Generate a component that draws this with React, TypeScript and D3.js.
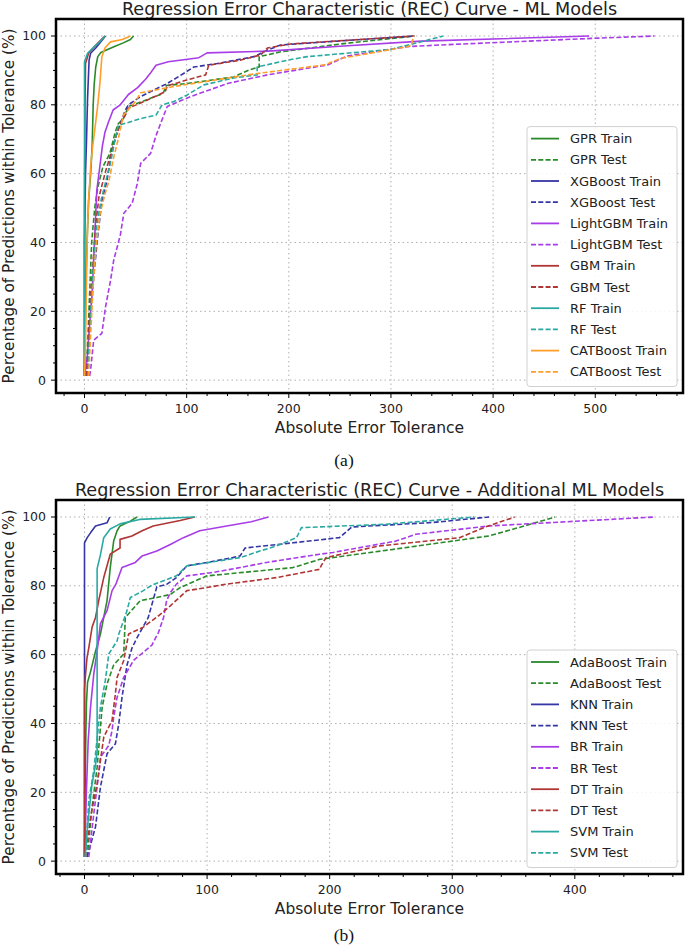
import * as d3 from "d3";

type Pt = [number, number];

// ---- (a) ML models: [absolute error, % of predictions within tolerance]
const gprTrain: Pt[] = [[0,1.2],[0.5,12],[1.5,30],[2.6,41],[4,52],[6,60],[7.5,68],[8.5,80],[9.5,86],[11,91],[13,94],[16,95.2],[22,96],[30,97],[38,98],[45,99],[48,100]];
const gprTest: Pt[] = [[1.5,1.2],[3,10],[5,25],[7,40],[10,50],[13,56],[18,62],[25,66],[30,72],[33,74.5],[38,76],[43,79.5],[55,80.8],[77,83.3],[80,85.6],[100,86.2],[146,88.1],[160,90],[171,91],[171,94],[192,95.4],[251,97.7],[323,100]];
const xgbTrain: Pt[] = [[0,1.2],[0,40],[1,60],[2,70],[3,82],[4.5,93],[6,95],[11,96.5],[15,98],[20.5,100]];
const xgbTest: Pt[] = [[2.5,1.2],[4,10],[7,22],[9,30],[13,42],[17,52],[22,58],[27,67],[32,72],[40,78.5],[43,80],[55,82.4],[81,86.2],[97,89.1],[107,91],[130,92],[166,94],[179,95.9],[192,97.4],[251,98.6],[323,100]];
const lgbmTrain: Pt[] = [[0,1.2],[1,3],[2.5,6],[4,12],[6,20],[7.5,25],[9,35],[10.5,45],[12,55],[15,62],[17.5,68],[20,72],[23.5,75],[28,78.5],[35,80],[43,83],[52,85],[60,87.5],[64,89],[70,91.5],[82,92.5],[112,93.7],[120,95.1],[180,95.6],[250,97],[330,98.5],[494,100]];
const lgbmTest: Pt[] = [[5,1.2],[6,3],[9,11.6],[17,13.6],[20.6,21.3],[25.5,29],[28.7,35],[35,42],[38.5,48.5],[46.7,51.4],[51.6,57],[55,63],[64.7,65.9],[69.6,70.7],[74.5,74.6],[81,79.5],[88,80.4],[104,82.4],[140,86.2],[179,88.7],[238,91.6],[257,94.2],[316,96.9],[349,97.4],[496,99.3],[558,100]];
const gbmTrain: Pt[] = [[0,1.2],[0,50],[0.5,80],[1,92],[4,95],[10,97],[15,98.5],[20,100]];
const gbmTest: Pt[] = [[2,1.2],[3.5,8],[5,20],[8,33],[11,45],[14,53],[20,60],[26,66],[32,72],[36,75],[40,77],[43,79],[61.5,81.4],[79,83.8],[81,85.5],[100,87.2],[118.6,88.7],[121.6,91.5],[153,93],[172.5,94.5],[179,96.5],[202,97.7],[323,100]];
const rfTrain: Pt[] = [[0,1.2],[0,92.5],[3,95],[10,97],[14,98],[20,100]];
const rfTest: Pt[] = [[3,1.2],[4.5,10],[7,25],[9,35],[12,45],[16,52],[21,58],[26,64],[30,70],[33,74],[55,76],[70,77],[76,80],[88,81],[100,82.8],[117,85.8],[146,87.8],[169,88.7],[169,91],[199,93],[218,94],[300,96.1],[336,98.8],[351,100]];
const catTrain: Pt[] = [[0,1.2],[1,10],[2,30],[3,45],[4,52],[6,62],[8,68],[10.4,73.6],[13,80],[15,86],[16,90],[17,94],[20,96.5],[25.5,98.3],[37,99],[45,100]];
const catTest: Pt[] = [[4,1.2],[5.5,10],[8,25],[11,38],[15,48],[20,54],[24,58],[28,64],[33,70],[38,77],[50,81],[55,83.5],[87,85.3],[169,89.1],[235,91.6],[251,93.5],[316,96.9],[320,97.3],[322,100]];

// ---- (b) additional ML models
const adaTrain: Pt[] = [[0,1.2],[0.5,20],[1,35],[1.6,46],[2.5,52],[4.9,55],[9,61],[13,66],[18.4,75.7],[21,85.3],[23.8,93],[26.6,96],[29,97.4],[37.4,98.8],[42.8,100]];
const adaTest: Pt[] = [[2.2,1.2],[6.2,15.7],[10.3,27.3],[14.4,44.7],[18.4,51.5],[23.8,57],[32,60.2],[33.3,70.8],[45.5,75.7],[59,76.6],[70,77.5],[78,79.5],[100,82.9],[129.5,83.9],[170,85.3],[192,87.7],[250,90.5],[300,93],[330,94.5],[350,96.5],[384,100]];
const knnTrain: Pt[] = [[0,1.2],[0,92.5],[2.2,94],[4.9,95.4],[9,97.4],[18.4,98.3],[20.6,100]];
const knnTest: Pt[] = [[2.2,1.2],[9,10],[13,21.5],[18.4,31.2],[25.2,34.1],[28,40],[30.6,47.6],[34.7,57],[38.8,62],[43,65],[52,70.8],[59,79.7],[67,80.4],[75,82.4],[83.5,85.8],[100,86.8],[121,88.2],[127,88.7],[131,91],[170,92.5],[208,94],[218,97.1],[284,98.4],[330,100]];
const brTrain: Pt[] = [[0,1.2],[0.8,10],[1.6,20.6],[3,35],[4.9,44.7],[7.6,54.5],[10.3,61],[13,69],[18.4,72.8],[22.5,78.6],[25.5,80.4],[30.6,85.3],[41.5,86.8],[47,88.7],[59,90.1],[70,92],[80.7,94],[94,96],[116,97.4],[136,98.6],[150,100]];
const brTest: Pt[] = [[3.5,1.2],[7.6,13.8],[11.6,25.4],[13,30.2],[19.8,33.6],[22.5,38],[23.8,41.8],[26.6,47.6],[32,53.4],[40,58.3],[55,62.8],[60.4,66.5],[64.5,70.8],[67,75.7],[70,78],[75,80.5],[83.5,82.9],[105,83.9],[127,85.3],[148.5,86.8],[192,89.2],[202.7,89.7],[254,93],[270.5,95],[330,97.4],[387,98.5],[465,100]];
const dtTrain: Pt[] = [[0,1.2],[0,50],[0.8,54],[2,59],[3.5,62],[6.2,68],[9,70.8],[11.6,75.7],[15.7,82.4],[21,89.2],[29,91],[29,93.5],[38.7,94.5],[47,96],[56,97.4],[78,99],[90,100]];
const dtTest: Pt[] = [[0.8,1.2],[4.9,12.8],[10.3,22.5],[15.7,36],[18.4,38],[22.5,40.9],[25.2,48.6],[26.6,53.4],[32,58.3],[36,66],[48,68],[60.4,71.3],[70,74.2],[78,76.8],[83.5,78.6],[100,79.5],[116,80.5],[156.7,82.4],[192,84.8],[193,85.8],[197,88.2],[240.7,91.6],[306,94],[327,97.1],[351,100]];
const svmTrain: Pt[] = [[0.5,1.2],[3,12],[6,22],[9,28],[10.3,32],[10.3,85],[13,89],[15.7,94],[21,96.5],[29,98],[45,99.3],[90,100]];
const svmTest: Pt[] = [[0.8,1.2],[3.5,17.7],[7.6,26.4],[13,44.7],[17,52.5],[19.8,60.2],[26.6,64],[28,66],[34.7,72.8],[37.4,76.6],[48,78.6],[55,80.2],[75,82.9],[83.5,85.8],[127,88.2],[143,90.1],[156.7,91.6],[173,94],[177,96.9],[246,97.9],[311,99.8],[318,100]];

const GREEN = "#2a8a2a";
const BLUE = "#3535a5";
const PURPLE = "#a83ce6";
const RED = "#b03535";
const TEAL = "#2aa9a3";
const ORANGE = "#ff9f2a";

interface Series { label: string; color: string; dashed: boolean; data: Pt[] }

const mlSeries: Series[] = [
  { label: "GPR Train", color: GREEN, dashed: false, data: gprTrain },
  { label: "GPR Test", color: GREEN, dashed: true, data: gprTest },
  { label: "XGBoost Train", color: BLUE, dashed: false, data: xgbTrain },
  { label: "XGBoost Test", color: BLUE, dashed: true, data: xgbTest },
  { label: "LightGBM Train", color: PURPLE, dashed: false, data: lgbmTrain },
  { label: "LightGBM Test", color: PURPLE, dashed: true, data: lgbmTest },
  { label: "GBM Train", color: RED, dashed: false, data: gbmTrain },
  { label: "GBM Test", color: RED, dashed: true, data: gbmTest },
  { label: "RF Train", color: TEAL, dashed: false, data: rfTrain },
  { label: "RF Test", color: TEAL, dashed: true, data: rfTest },
  { label: "CATBoost Train", color: ORANGE, dashed: false, data: catTrain },
  { label: "CATBoost Test", color: ORANGE, dashed: true, data: catTest },
];

const extraSeries: Series[] = [
  { label: "AdaBoost Train", color: GREEN, dashed: false, data: adaTrain },
  { label: "AdaBoost Test", color: GREEN, dashed: true, data: adaTest },
  { label: "KNN Train", color: BLUE, dashed: false, data: knnTrain },
  { label: "KNN Test", color: BLUE, dashed: true, data: knnTest },
  { label: "BR Train", color: PURPLE, dashed: false, data: brTrain },
  { label: "BR Test", color: PURPLE, dashed: true, data: brTest },
  { label: "DT Train", color: RED, dashed: false, data: dtTrain },
  { label: "DT Test", color: RED, dashed: true, data: dtTest },
  { label: "SVM Train", color: TEAL, dashed: false, data: svmTrain },
  { label: "SVM Test", color: TEAL, dashed: true, data: svmTest },
];

const FONT = "DejaVu Sans, sans-serif";
const SERIF = "Liberation Serif, Times New Roman, serif";
const LEFT = 56;
const RIGHT = 683;
const DASH = "5,2.3";

// matplotlib style 5% margins around the data extent
function padded(ext: [number, number]): [number, number] {
  const m = (ext[1] - ext[0]) * 0.05;
  return [ext[0] - m, ext[1] + m];
}

function RecChart({ top, title, series, id }: { top: number; title: string; series: Series[]; id: string }) {
  const bottom = top + 374;
  const all = series.flatMap((s) => s.data);
  const x = d3.scaleLinear().domain(padded(d3.extent(all, (d) => d[0]) as [number, number])).range([LEFT, RIGHT]);
  const y = d3.scaleLinear().domain(padded(d3.extent(all, (d) => d[1]) as [number, number])).range([bottom, top]);
  const line = d3.line<Pt>().x((d) => x(d[0])).y((d) => y(d[1]));

  const xMajor = d3.range(0, x.domain()[1], 100);
  const xMinor = d3.range(-20, x.domain()[1], 20).filter((v) => v >= x.domain()[0] && v % 100 !== 0);
  const yMajor = d3.range(0, 101, 20);
  const yMinor = d3.range(-5, 105, 5).filter((v) => v >= y.domain()[0] && v % 20 !== 0);

  const n = series.length;
  const rowH = 21.2;
  const boxW = 150;
  const boxH = n * rowH + 5.5;
  const boxX = RIGHT - 6 - boxW;
  const boxY = bottom - 6.5 - boxH;

  return (
    <g>
      <text x={(LEFT + RIGHT) / 2} y={top - 4.5} textAnchor="middle" fontSize={17.6} fill="#222">{title}</text>
      <clipPath id={id}><rect x={LEFT} y={top} width={RIGHT - LEFT} height={bottom - top} /></clipPath>
      <g stroke="#b0b0b0" strokeWidth={1} strokeDasharray="1.5,3">
        {xMajor.map((v) => <line key={"gx" + v} x1={x(v)} x2={x(v)} y1={top} y2={bottom} />)}
        {yMajor.map((v) => <line key={"gy" + v} x1={LEFT} x2={RIGHT} y1={y(v)} y2={y(v)} />)}
      </g>
      <g clipPath={`url(#${id})`} fill="none" strokeWidth={1.6} strokeLinejoin="round">
        {series.map((s) => (
          <path key={s.label} d={line(s.data)!} stroke={s.color} strokeDasharray={s.dashed ? DASH : undefined} />
        ))}
      </g>
      <g stroke="#000" strokeWidth={1}>
        {xMajor.map((v) => <line key={"tx" + v} x1={x(v)} x2={x(v)} y1={bottom} y2={bottom + 5} />)}
        {xMinor.map((v) => <line key={"mx" + v} x1={x(v)} x2={x(v)} y1={bottom} y2={bottom + 3} />)}
        {yMajor.map((v) => <line key={"ty" + v} x1={LEFT - 5} x2={LEFT} y1={y(v)} y2={y(v)} />)}
        {yMinor.map((v) => <line key={"my" + v} x1={LEFT - 3} x2={LEFT} y1={y(v)} y2={y(v)} />)}
      </g>
      <rect x={LEFT} y={top} width={RIGHT - LEFT} height={bottom - top} fill="none" stroke="#000" strokeWidth={2.5} />
      <g fontSize={12.5} fill="#222">
        {xMajor.map((v) => <text key={"lx" + v} x={x(v)} y={bottom + 20} textAnchor="middle">{v}</text>)}
        {yMajor.map((v) => <text key={"ly" + v} x={LEFT - 10} y={y(v)} dy="0.35em" textAnchor="end">{v}</text>)}
      </g>
      <text x={(LEFT + RIGHT) / 2} y={bottom + 40} textAnchor="middle" fontSize={15.5} fill="#222">Absolute Error Tolerance</text>
      <text transform={`translate(14,${(top + bottom) / 2}) rotate(-90)`} textAnchor="middle" fontSize={15.3} fill="#222">
        Percentage of Predictions within Tolerance (%)
      </text>
      <rect x={boxX} y={boxY} width={boxW} height={boxH} rx={3} fill="#fff" fillOpacity={0.85} stroke="#d0d0d0" strokeWidth={1} />
      {series.map((s, i) => {
        const cy = boxY + 12 + i * rowH;
        return (
          <g key={"lg" + s.label}>
            <line x1={boxX + 4} x2={boxX + 32} y1={cy} y2={cy} stroke={s.color} strokeWidth={1.8} strokeDasharray={s.dashed ? DASH : undefined} />
            <text x={boxX + 43} y={cy} dy="0.35em" fontSize={13} fill="#222">{s.label}</text>
          </g>
        );
      })}
    </g>
  );
}

export default function App() {
  return (
    <svg width={685} height={948} style={{ position: "absolute", left: 0, top: 0, background: "#fff" }} fontFamily={FONT}>
      <rect width={685} height={948} fill="#fff" />
      <RecChart id="clipA" top={19} title="Regression Error Characteristic (REC) Curve - ML Models" series={mlSeries} />
      <text x={344} y={466} textAnchor="middle" fontSize={17.5} fontFamily={SERIF} fill="#111">(a)</text>
      <RecChart id="clipB" top={500} title="Regression Error Characteristic (REC) Curve - Additional ML Models" series={extraSeries} />
      <text x={344} y={941} textAnchor="middle" fontSize={17.5} fontFamily={SERIF} fill="#111">(b)</text>
    </svg>
  );
}
